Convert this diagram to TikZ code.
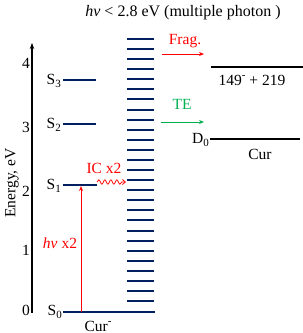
\documentclass[tikz,border=0pt]{standalone}
\usepackage{fontspec}
\setmainfont{Liberation Serif}
\usetikzlibrary{decorations.pathmorphing,arrows.meta}
\definecolor{navy}{RGB}{0,32,96}
\definecolor{tegreen}{RGB}{0,176,80}
\newcommand\lsub[1]{\raisebox{-0.45ex}{\fontsize{11}{11}\selectfont #1}}
\newcommand\lsup[1]{\raisebox{0.9ex}{\fontsize{11}{11}\selectfont #1}}
\begin{document}
\begin{tikzpicture}[x=1pt,y=-1pt,font=\fontsize{15.5}{17}\selectfont,
  lvl/.style={navy,line width=2pt},
  blk/.style={black,line width=1.6pt},
  lab/.style={inner sep=0pt},
  tip/.style={-{Stealth[length=5pt,width=4pt]}}]
\useasboundingbox (0,0) rectangle (303,333);
% title
\node[lab,font=\fontsize{16}{18}\selectfont] (title) at (183,13) {\textit{hν} < 2.8 eV (multiple photon )};
% axis
\coordinate (ax0) at (32,313);
\coordinate (ax1) at (32,43);
\draw[line width=1.3pt,-{Stealth[length=6pt,width=4.5pt]}] (ax0) -- (ax1);
\foreach \v/\y in {0/310,1/250,2/191,3/127,4/63}
  \node[lab,anchor=east] (t\v) at (30,\y) {\v};
\node[lab,rotate=90] (elab) at (12,183) {Energy, eV};
% singlet levels
\coordinate (s3a) at (63,80);  \coordinate (s3b) at (96,80);
\coordinate (s2a) at (63,124); \coordinate (s2b) at (96,124);
\coordinate (s1a) at (63,185); \coordinate (s1b) at (97,185);
\coordinate (s0a) at (63,312); \coordinate (s0b) at (155,312);
\draw[lvl] (s3a) -- (s3b);
\draw[lvl] (s2a) -- (s2b);
\draw[lvl] (s1a) -- (s1b);
\draw[lvl] (s0a) -- (s0b);
\node[lab,anchor=east] (S3) at (61,81) {S\lsub{3}};
\node[lab,anchor=east] (S2) at (61,125) {S\lsub{2}};
\node[lab,anchor=east] (S1) at (61,186) {S\lsub{1}};
\node[lab,anchor=east] (S0) at (62,312) {S\lsub{0}};
\node[lab] (curm) at (98,326) {Cur\lsup{-}};
% dense manifold
\foreach \i in {0,...,26}
  \draw[lvl] (127,{39+\i*10.08}) -- (154,{39+\i*10.08});
% excitation
\coordinate (ex0) at (81,312);
\coordinate (ex1) at (81,186);
\draw[red,line width=1pt,tip] (ex0) -- (ex1);
\node[lab,red] (hv) at (60,243) {\textit{hν} x2};
% IC
\coordinate (ic0) at (97,182);
\coordinate (ic1) at (126,182);
\draw[red,line width=0.8pt,decorate,decoration={snake,amplitude=2.2pt,segment length=6pt,post length=4pt},-{Straight Barb[length=3pt,width=5pt]}] (ic0) -- (ic1);
\node[lab,red] (ic) at (104,168) {IC x2};
% Frag / TE
\coordinate (fr0) at (162,54); \coordinate (fr1) at (204,54);
\draw[red,line width=1pt,tip] (fr0) -- (fr1);
\node[lab,red] (frag) at (185,41) {Frag.};
\coordinate (te0) at (161,122); \coordinate (te1) at (204,122);
\draw[tegreen,line width=1pt,tip] (te0) -- (te1);
\node[lab,tegreen] (te) at (182,104) {TE};
% product levels
\coordinate (pa) at (211,67); \coordinate (pb) at (303,67);
\draw[blk] (pa) -- (pb);
\node[lab] (prod) at (252,80) {149\lsup{-} + 219};
\coordinate (da) at (210,139); \coordinate (db) at (300,139);
\draw[blk] (da) -- (db);
\node[lab,anchor=east] (D0) at (209,140) {D\lsub{0}};
\node[lab] (cur) at (260,154) {Cur};
\end{tikzpicture}
\end{document}
